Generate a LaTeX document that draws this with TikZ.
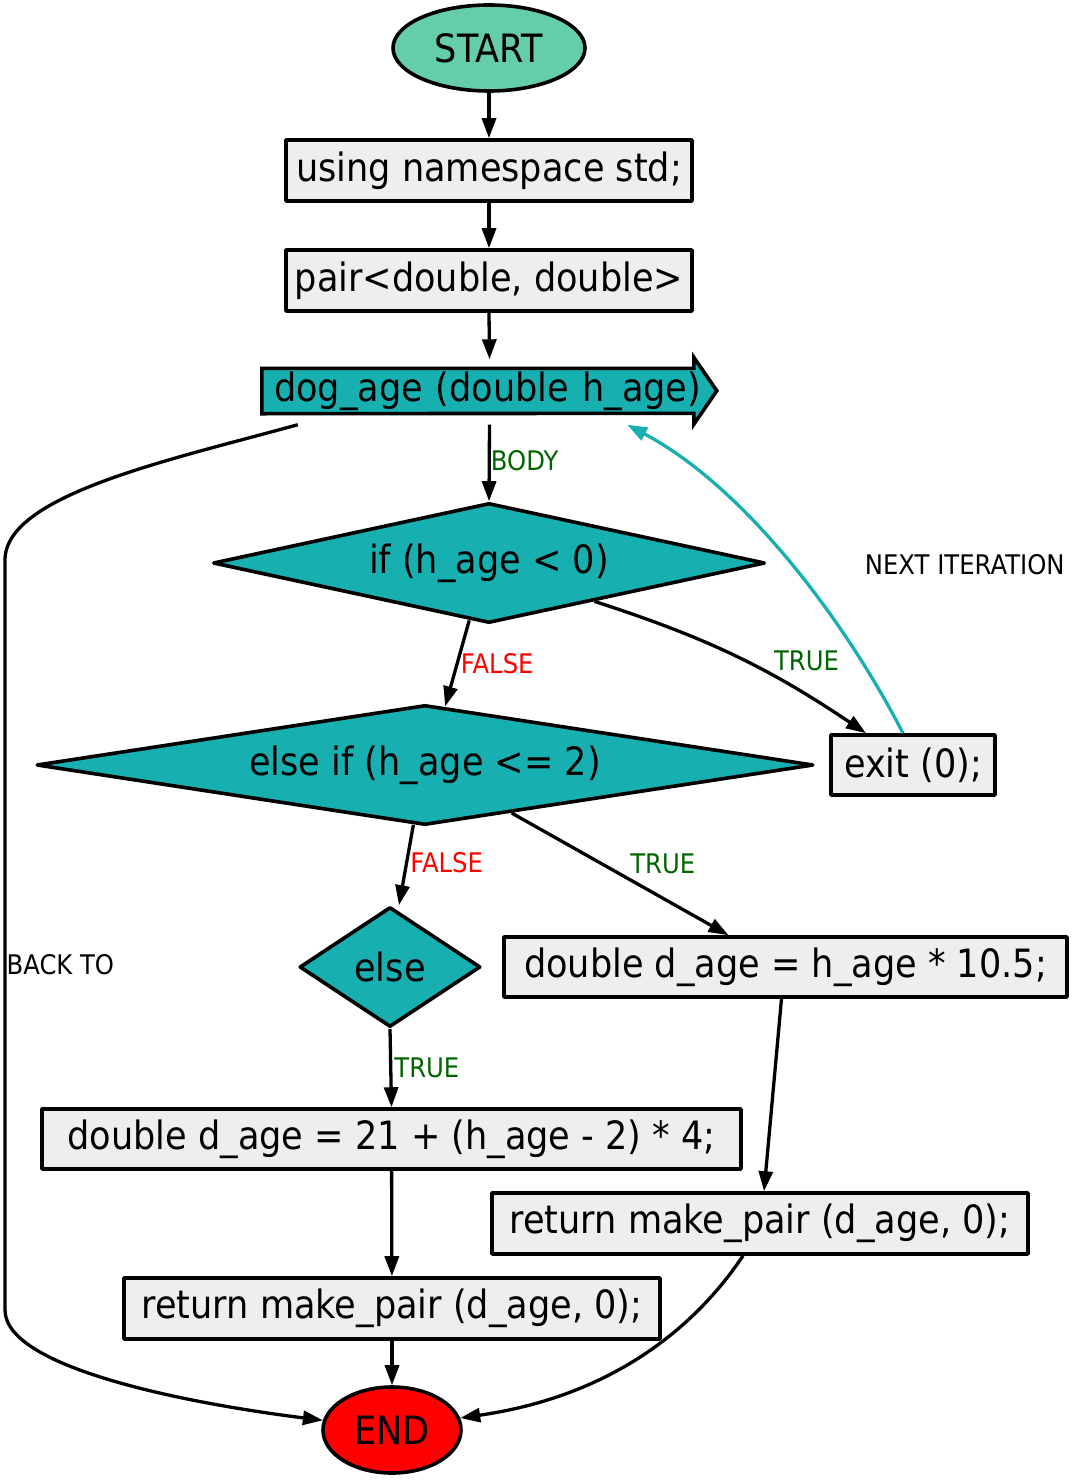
\documentclass[tikz,border=0pt]{standalone}
\usepackage{fontspec}
\setmainfont{DejaVu Sans}[FakeStretch=0.9]
\usetikzlibrary{shapes.geometric,arrows.meta,backgrounds}

\definecolor{seagreen}{RGB}{24,175,176}
\definecolor{aquamarine}{HTML}{66CDAA}
\definecolor{boxgray}{HTML}{EEEEEE}
\definecolor{labelgreen}{HTML}{006400}

\tikzset{
  stmt/.style={draw, fill=boxgray, line width=3.6pt, minimum height=61pt, inner sep=0pt,
    font=\fontsize{39}{46}\selectfont},
  cond/.style={diamond, draw, fill=seagreen, line width=3.6pt, inner sep=0pt,
    minimum height=120pt, font=\fontsize{39}{46}\selectfont},
  term/.style={ellipse, draw, line width=3.6pt, inner sep=0pt, minimum height=86pt,
    font=\fontsize{39}{46}\selectfont},
  flow/.style={line width=3.3pt, -{Triangle[length=20pt,width=14pt]}},
  lbl/.style={font=\fontsize{27}{32}\selectfont, inner sep=2pt},
}

\begin{document}
\begin{tikzpicture}[x=1pt, y=-1pt, line join=round]

  %% ==== nodes ====
  \node[term, fill=aquamarine, minimum width=192pt] (start) at (489,48) {START};
  \node[stmt, minimum width=406pt] (ns)   at (489,170.5) {using namespace std;};
  \node[stmt, minimum width=406pt] (pair) at (489,280.5) {pair<double, double>};
  \node[text width=431pt, inner xsep=12pt, inner ysep=0pt, align=left, minimum height=67pt,
    font=\fontsize{39}{46}\selectfont] (fn) at (489.5,391) {dog\_age (double h\_age)};
  \node[cond, minimum width=552pt, aspect=4.6] (ifa) at (489,563) {if (h\_age < 0)};
  \node[cond, minimum width=777pt, aspect=6.5] (elif) at (425,765) {else if (h\_age <= 2)};
  \node[stmt, minimum width=164pt, minimum height=60pt] (exit) at (913,765) {exit (0);};
  \node[cond, minimum width=181pt, aspect=1.5] (els) at (390,967) {else};
  \node[stmt, minimum width=563pt, minimum height=60pt] (dright) at (785.5,967) {double d\_age = h\_age * 10.5;};
  \node[stmt, minimum width=699pt, minimum height=60pt] (dleft) at (391.5,1139) {double d\_age = 21 + (h\_age - 2) * 4;};
  \node[stmt, minimum width=536pt] (rright) at (760,1223.5) {return make\_pair (d\_age, 0);};
  \node[stmt, minimum width=536pt] (rleft)  at (392,1308.5) {return make\_pair (d\_age, 0);};
  \node[term, fill=red, minimum width=138pt] (end) at (392,1430) {END};

  %% cds outline of the function node
  \begin{scope}[on background layer]
    \draw[fill=seagreen, line width=3.6pt] ([yshift=-11pt]fn.north west) -- ++(432,0) -- ++(0,-11)
      -- ++(23,33.5) -- ++(-23,33.5) -- ++(0,-11) -- ([yshift=11pt]fn.south west) -- cycle;
  \end{scope}

  %% ==== straight edges ====
  \draw[flow] (start) -- (ns);
  \draw[flow] (ns) -- (pair);
  \draw[flow] (pair.south) -- ([yshift=-2pt]fn.north);
  \draw[flow] (fn.south) -- node[lbl, pos=0.47, anchor=west, text=labelgreen, inner sep=0pt] {BODY} (ifa.north);
  \draw[flow] (ifa.-109) -- node[lbl, pos=0.5, anchor=west, text=red] {FALSE} (elif.71);
  \draw[flow] (elif.-101) -- node[lbl, pos=0.47, anchor=west, text=red] {FALSE} ([xshift=9pt]els.north);
  \draw[flow] (elif.-29.7) -- node[lbl, pos=0.53, anchor=south west, text=labelgreen] {TRUE} ([xshift=-57pt]dright.north);
  \draw[flow] (els.south) -- node[lbl, pos=0.5, anchor=west, text=labelgreen] {TRUE} (dleft.north);
  \draw[flow] ([xshift=-4pt]dright.south) -- ([xshift=4pt]rright.north);
  \draw[flow] (dleft) -- (rleft);
  \draw[flow] (rleft) -- (end);

  %% ==== curved edges ====
  \draw[flow] (ifa.-20.7) to[bend left=8] node[lbl, pos=0.64, anchor=south west, text=labelgreen] {TRUE} ([xshift=-47pt]exit.north);
  \draw[flow, seagreen] ([xshift=-10pt]exit.north) .. controls (850,630) and (750,490) .. node[lbl, pos=0.5, anchor=west, xshift=70pt, text=black] {NEXT ITERATION} ([xshift=-90pt]fn.south east);
  \draw[flow] ([xshift=-17pt]rright.south) .. controls (700,1320) and (620,1395) .. (end.10);
  \draw[flow] ([xshift=36pt]fn.south west) .. controls (170,460) and (5,495) .. (5,560)
    -- node[lbl, pos=0.54, anchor=west, inner sep=0pt] {BACK TO} (5,1310)
    .. controls (5,1370) and (200,1405) .. (end.172);

  \pgfresetboundingbox
  \path[use as bounding box] (0,0) rectangle (1072,1480);
\end{tikzpicture}
\end{document}
